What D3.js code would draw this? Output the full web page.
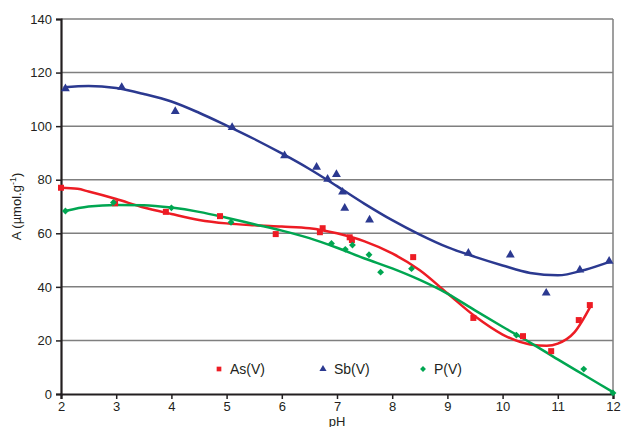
<!DOCTYPE html>
<html>
<head>
<meta charset="utf-8">
<script src="https://cdn.jsdelivr.net/npm/d3@7"></script>
<style>
  body { margin: 0; background: #fff; }
  text { font-family: "Liberation Sans", Arial, sans-serif; fill: #231f20; }
</style>
</head>
<body>
<script>
var margin = {top: 19, right: 11, bottom: 33, left: 61};

const width = 624 - margin.left - margin.right,
height = 427 - margin.top - margin.bottom;

// measured points, [pH, A]
var asPoints = [[2.0,77],[2.98,71.2],[3.9,68],[4.88,66.4],[5.89,59.7],[6.69,60.4],[6.74,61.9],
  [7.23,58.5],[7.27,57.5],[8.38,51.1],[9.47,28.4],[10.37,21.6],[10.88,16],[11.38,27.6],[11.58,33.2]];
var sbPoints = [[2.08,114],[3.1,114.5],[4.07,105.5],[5.1,99.5],[6.05,89],[6.63,84.7],[6.83,80.2],
  [6.99,82],[7.1,75.4],[7.14,69.4],[7.59,65],[9.38,52.6],[10.14,51.9],[10.79,37.7],[11.4,46.3],[11.93,49.6]];
var pPoints = [[2.08,68.3],[2.95,71.5],[4.0,69.5],[5.08,64.1],[6.9,56.2],[7.15,54],[7.28,55.6],
  [7.58,52],[7.79,45.5],[8.35,46.8],[10.25,22],[11.47,9.3],[12.0,0.4]];

// trend lines
var asFit = [[2,77],[2.3,76.6],[2.5,75.6],[3,72.8],[3.5,69.6],[4,67.2],[4.5,65],[5,63.7],[5.5,63],
  [6,62.5],[6.5,61.9],[7,60],[7.5,57],[8,52.5],[8.5,46.2],[9,37.6],[9.5,29],[10,22.2],
  [10.5,18.5],[10.8,18],[11,18.8],[11.3,23],[11.6,33]];
var sbFit = [[2.05,114.5],[2.5,115],[3,114.2],[3.5,112],[4,109.2],[4.5,105],[5,100.2],[5.5,95.2],
  [6,89.8],[6.5,84],[7,77.6],[7.5,71],[8,64.9],[8.5,59.5],[9,54.8],[9.5,51.2],[10,48],[10.5,45.2],
  [11,44.3],[11.5,46.4],[11.95,49.4]];
var pFit = [[2.07,68.3],[2.5,70],[3,70.6],[3.5,70.5],[4,69.6],[4.5,68],[5,65.8],[5.5,63.4],[6,61],
  [6.5,58.2],[7,54.6],[7.5,50.6],[8,46.9],[8.5,42.6],[9,37.5],[9.5,31.2],[10,25.1],[10.5,19.2],
  [11,12.9],[11.5,6.8],[12,0.7]];

var xTicks = [2,3,4,5,6,7,8,9,10,11,12];
var yTicks = [0,20,40,60,80,100,120,140];

var colors = {as: "#ed1c24", sb: "#2b3990", p: "#00a651"};

var svg = d3.select("body").append("svg")
    .attr("width", width + margin.left + margin.right)
    .attr("height", height + margin.top + margin.bottom)
    .append("g")
    .attr("transform", "translate(" + margin.left + "," + margin.top + ")");

var x = d3.scaleLinear().domain([2, 12]).range([0, width]);
var y = d3.scaleLinear().domain([0, 140]).range([height, 0]);

// grid lines
svg.selectAll(".grid")
    .data(yTicks.filter(function(d) { return d > 0; }))
    .enter().append("line")
    .attr("x1", 0).attr("x2", width)
    .attr("y1", function(d) { return y(d); })
    .attr("y2", function(d) { return y(d); })
    .style("stroke", "#7f7f7f")
    .style("stroke-width", 1.5);

// right border
svg.append("line")
    .attr("x1", width).attr("x2", width)
    .attr("y1", 0).attr("y2", height)
    .style("stroke", "#7f7f7f")
    .style("stroke-width", 1.5);

// axes
var yAxis = svg.append("g")
    .call(d3.axisLeft(y).tickValues(yTicks).tickSize(5).tickPadding(4));
var xAxis = svg.append("g")
    .attr("transform", "translate(0," + height + ")")
    .call(d3.axisBottom(x).tickValues(xTicks).tickSize(5).tickPadding(3));

[xAxis, yAxis].forEach(function(a) {
  a.select(".domain").style("stroke", "#231f20").style("stroke-width", 2.2);
  a.selectAll(".tick line").style("stroke", "#231f20").style("stroke-width", 1.5);
  a.selectAll("text").style("font-size", "13px")
    .style("font-family", "'Liberation Sans', Arial, sans-serif").style("fill", "#231f20");
});

// axis titles
svg.append("text")
    .attr("x", x(7))
    .attr("y", height + 32)
    .attr("text-anchor", "middle")
    .style("font-size", "13px")
    .text("pH");

var yLabel = svg.append("text")
    .attr("transform", "translate(" + (-40) + "," + (height / 2) + ") rotate(-90)")
    .attr("text-anchor", "middle")
    .style("font-size", "13px");
yLabel.append("tspan").text("A (µmol.g");
yLabel.append("tspan").attr("dy", "-5").style("font-size", "9px").text("-1");
yLabel.append("tspan").attr("dy", "5").text(")");

// trend lines
var line = d3.line()
    .x(function(d) { return x(d[0]); })
    .y(function(d) { return y(d[1]); })
    .curve(d3.curveMonotoneX);

[[asFit, colors.as], [sbFit, colors.sb], [pFit, colors.p]].forEach(function(s) {
  svg.append("path")
      .datum(s[0])
      .attr("d", line)
      .style("fill", "none")
      .style("stroke", s[1])
      .style("stroke-width", 2.5);
});

// markers
var square = d3.symbol().type(d3.symbolSquare).size(36);
var triangle = d3.symbol().type(d3.symbolTriangle).size(34);
var diamond = d3.symbol().type(d3.symbolDiamond2).size(30);

function drawPoints(data, sym, color) {
  svg.selectAll(null)
      .data(data)
      .enter().append("path")
      .attr("d", sym)
      .attr("transform", function(d) { return "translate(" + x(d[0]) + "," + y(d[1]) + ")"; })
      .style("fill", color);
}
drawPoints(asPoints, square, colors.as);
drawPoints(sbPoints, triangle, colors.sb);
drawPoints(pPoints, diamond, colors.p);

// legend
var legendItems = [
  {label: "As(V)", sym: square, color: colors.as, x: 158},
  {label: "Sb(V)", sym: triangle, color: colors.sb, x: 262},
  {label: "P(V)", sym: diamond, color: colors.p, x: 362}
];
var legend = svg.selectAll(".legend")
    .data(legendItems)
    .enter().append("g")
    .attr("transform", function(d) { return "translate(" + d.x + "," + 350 + ")"; });
legend.append("path")
    .attr("d", function(d) { return d.sym.size(22)(); })
    .style("fill", function(d) { return d.color; });
legend.append("text")
    .attr("x", 11)
    .attr("y", 5)
    .style("font-size", "14px")
    .text(function(d) { return d.label; });
</script>
</body>
</html>
